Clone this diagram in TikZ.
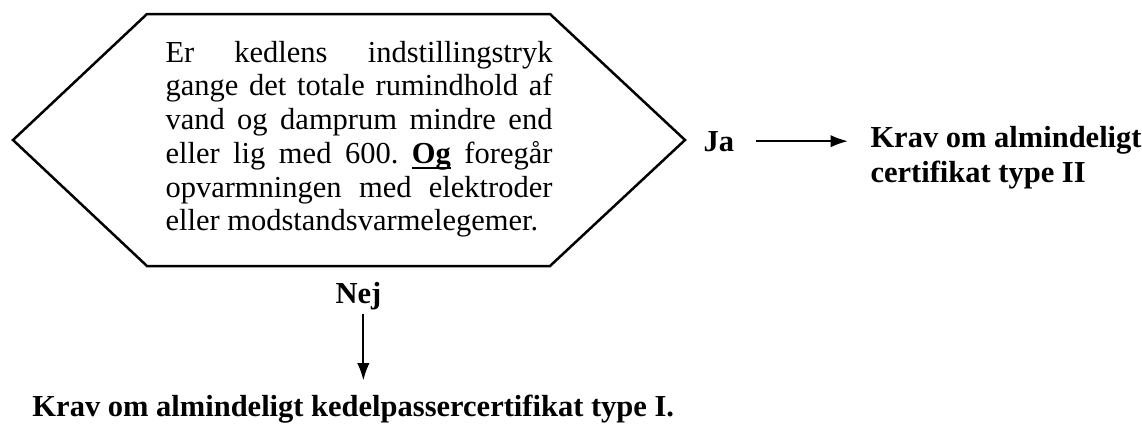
\documentclass[tikz,border=0pt]{standalone}
\usepackage{fontspec}
\setmainfont{Liberation Serif}
\usetikzlibrary{arrows.meta}
\newcommand\understreg[1]{{\setbox0=\hbox{#1}\rlap{\rule[-2.4pt]{\wd0}{0.8pt}}\box0}}
\tikzset{
  svar/.style={font=\fontsize{12.2}{14}\selectfont\bfseries, inner sep=0pt},
  pil/.style={-{Latex[length=7pt,width=5pt]}, line width=0.8pt},
}
\begin{document}
\begin{tikzpicture}[x=0.4pt,y=-0.4pt]
        \useasboundingbox (0,0) rectangle (1142,423);
        % Sekskanten med spoergsmaalet
        \draw[line width=1pt, line join=miter] (13,140) -- (147,14) -- (550,14) -- (685,140) -- (550,266) -- (147,266) -- cycle;
        \node[anchor=north west, inner sep=0pt, text width=154.8pt, align=justify,
              font=\fontsize{12.2}{13.5}\selectfont] (spm) at (165,40.5)
          {\frenchspacing\tolerance=10000 \hyphenpenalty=10000
           Er kedlens indstillingstryk\linebreak
           gange det totale rumindhold af\linebreak
           vand og damprum mindre end\linebreak
           eller lig med 600. \understreg{\textbf{Og}} foregår\linebreak
           opvarmningen med elektroder\linebreak
           eller modstandsvarmelegemer.};
        \node[svar, anchor=base west] (ja) at (703,151) {Ja};
        \node[svar, anchor=north west, align=left] (krav2) at (870,125.5) {Krav om almindeligt\\certifikat type II};
        \node[svar, anchor=base west] (nej) at (335,303) {Nej};
        \node[svar, anchor=base west] (krav1) at (32,416) {Krav om almindeligt kedelpassercertifikat type I.};
        \draw[pil] ([xshift=8.6pt]ja.east) -- ([xshift=-8.8pt]ja.east -| krav2.west);
        \draw[pil] ([xshift=2pt,yshift=-1.4pt]nej.south) -- ([xshift=2pt,yshift=5.4pt]nej.south |- krav1.north);
\end{tikzpicture}
\end{document}
